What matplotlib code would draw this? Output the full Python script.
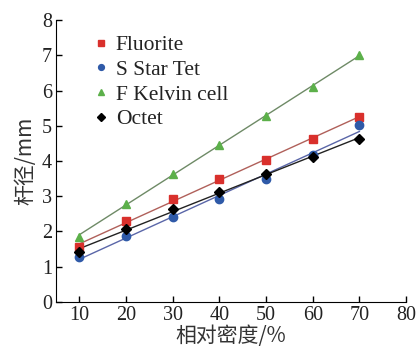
import matplotlib.pyplot as plt
import numpy as np

# relative density (%) and strut diameter (mm)
density = [10, 20, 30, 40, 50, 60, 70]
fluorite = [1.56, 2.30, 2.91, 3.48, 4.03, 4.62, 5.26]
s_star_tet = [1.26, 1.88, 2.41, 2.93, 3.48, 4.16, 5.03]
f_kelvin = [1.85, 2.79, 3.64, 4.46, 5.28, 6.11, 7.00]
octet = [1.41, 2.08, 2.62, 3.13, 3.63, 4.10, 4.63]

series = [
    ('Fluorite', fluorite, 's', '#d9302c', '#b0605a'),
    ('S Star Tet', s_star_tet, 'o', '#2f5aa8', '#5a66a8'),
    ('F Kelvin cell', f_kelvin, '^', '#5cb04a', '#6e8a66'),
    ('Octet', octet, 'D', '#000000', '#222222'),
]

plt.rcParams['font.family'] = 'serif'
plt.rcParams['font.serif'] = ['Liberation Serif', 'DejaVu Serif']
cjk = ['Noto Sans CJK SC', 'DejaVu Sans']

fig = plt.figure(figsize=(4.16, 3.47), dpi=100)
ax = fig.add_axes([0.135, 0.1305, 0.841, 0.8115])

x = np.array(density)
for name, y, mk, mc, lc in series:
    # linear trendline through the points
    k, b = np.polyfit(x, y, 1)
    ax.plot(x, k * x + b, color=lc, lw=1.0, zorder=2)
    ms = 6 if mk != 'D' else 5.5
    ax.plot(x, y, linestyle='none', marker=mk, color=mc, ms=ms,
            label=name, zorder=3)

ax.set_xlim(5, 80)
ax.set_ylim(0, 8)
ax.set_xticks(range(10, 81, 10))
ax.set_yticks(range(0, 9))
ax.spines['top'].set_visible(False)
ax.spines['right'].set_visible(False)
ax.tick_params(direction='in', length=4, width=1, labelsize=14.5, pad=3,
               labelcolor='#222222')

ax.set_xlabel('相对密度/%', family=cjk, fontsize=15, color='#333333', labelpad=0)
ax.set_ylabel('杆径/mm', family=cjk, fontsize=15, color='#333333', labelpad=4)

leg = ax.legend(loc='upper left', bbox_to_anchor=(0.05, 1.016), frameon=False,
                prop={'size': 15.5}, handlelength=0.7,
                handletextpad=0.35, labelspacing=0.22, markerscale=0.7)
for t in leg.get_texts():
    t.set_color('#222222')

fig.savefig('out.png', dpi=100)
